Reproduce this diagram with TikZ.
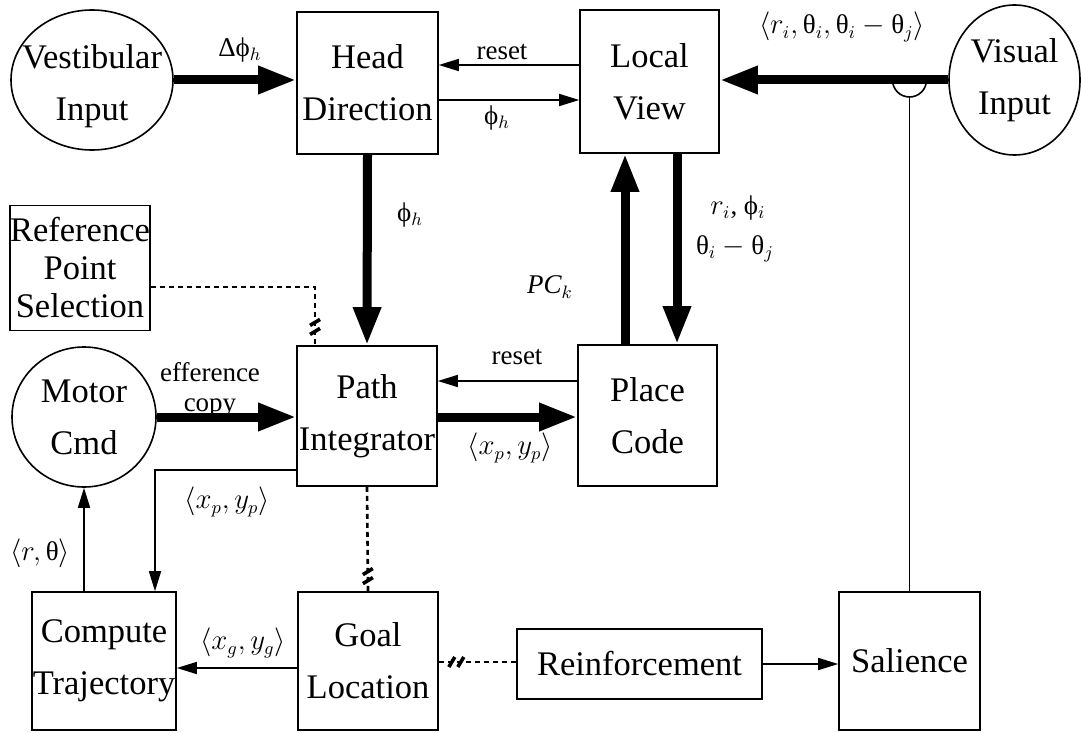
\documentclass[tikz,border=0pt]{standalone}
\usepackage{amsmath}
\usepackage{fontspec}
\setmainfont{Liberation Serif}
\usetikzlibrary{arrows.meta, shapes.geometric, decorations.markings}
\newcommand{\gth}{\text{θ}}
\tikzset{%
	every node/.style = {font=\fontsize{17.25}{26}\selectfont},
	blk/.style = {name = #1, rectangle, draw, line width = 0.8pt, inner sep = 0pt, align = center},
	src/.style = {name = #1, ellipse, draw, line width = 0.8pt, inner sep = 0pt},
	txt/.style = {align = center, inner sep = 0pt},
	lab/.style = {font = \fontsize{13.5}{15}\selectfont, inner sep = 0.5pt, align = center},
	heavy/.style = {line width = 4.5pt, -{Triangle[length = 19pt, width = 13pt]}},
	fine/.style = {line width = 0.8pt, -{Triangle[length = 10pt, width = 6pt]}},
	link/.style = {line width = 1.3pt, dash pattern = on 2.5pt off 2pt},
	cut/.style 2 args = {postaction = {decorate}, decoration = {markings,
		mark = at position #1 with {\draw [solid, line width = 1.8pt, yscale = #2] (-4pt,-2.5pt) -- (-1pt,2.5pt) (0.5pt,-2.5pt) -- (3.5pt,2.5pt);}}}
}
\begin{document}
\begin{tikzpicture}[x = 0.5pt, y = -0.5pt]
	\useasboundingbox (0,0) rectangle (1081,733);
	% inputs
	\node [src = {VES}, minimum width = 81pt, minimum height = 70pt, label = {[txt, yshift = -3pt]center:Vestibular\\Input}] at (92,80) {};
	\node [src = {VIS}, minimum width = 65.5pt, minimum height = 75pt, label = {[txt]center:Visual\\Input}] at (1014.5,80) {};
	\node [src = {MC}, minimum width = 72pt, minimum height = 70pt, label = {[txt]center:Motor\\Cmd}] at (84,417) {};
	% units
	\node [blk = {HD}, minimum width = 70.5pt, minimum height = 71pt] at (367.5,83) {Head\\Direction};
	\node [blk = {LV}, minimum width = 69.5pt, minimum height = 71.5pt] at (649.5,81.5) {Local\\View};
	\node [blk = {RPS}, minimum width = 70pt, minimum height = 62.5pt, font = \fontsize{17.25}{19}\selectfont] at (80,268) {Reference\\Point\\Selection};
	\node [blk = {PI}, minimum width = 70pt, minimum height = 70pt] at (367,416) {Path\\Integrator};
	\node [blk = {PC}, minimum width = 69.5pt, minimum height = 70.5pt] at (647.5,415.5) {Place\\Code};
	\node [blk = {CT}, minimum width = 72pt, minimum height = 69pt] at (104,661) {Compute\\Trajectory};
	\node [blk = {GL}, minimum width = 70pt, minimum height = 69pt] at (368,661) {Goal\\Location};
	\node [blk = {RF}, minimum width = 122.5pt, minimum height = 35pt] at (639.5,664) {Reinforcement};
	\node [blk = {SA}, minimum width = 70.5pt, minimum height = 69pt] at (909.5,661) {Salience};
	% heavy connections
	\path [heavy] (VES.east) edge (VES.east -| HD.west);
	\path [heavy] (VIS.west) edge (LV.east |- VIS.west);
	\path [heavy] (HD.south) edge (PI.north);
	\path [heavy] (PC.north -| 625,0) edge (LV.south -| 625,0);
	\path [heavy] (LV.south -| 677,0) edge (PC.north -| 677,0);
	\path [heavy] (MC.east) edge (MC.east -| PI.west);
	\path [heavy] (PI.east |- 0,417) edge (PC.west |- 0,417);
	% fine connections
	\path [fine] (LV.west |- 0,65) edge (HD.east |- 0,65);
	\path [fine] (HD.east |- 0,100) edge (LV.west |- 0,100);
	\path [fine] (PC.west |- 0,381) edge (PI.east |- 0,381);
	\draw [fine] (PI.west |- 0,470) -| (CT.north -| 155,0);
	\path [fine] (CT.north -| MC.south) edge (MC.south);
	\path [fine] (GL.west |- 0,668) edge (CT.east |- 0,668);
	\path [fine] (RF.east) edge (SA.west |- RF.east);
	% salience tap on the visual line
	\coordinate (jn) at (SA.north |- VIS.west);
	\draw [line width = 0.8pt] ([xshift = -8.5pt]jn) arc [start angle = 180, end angle = 360, radius = 8.5pt];
	\draw [line width = 0.8pt] ([yshift = -8.5pt]jn) -- (SA.north);
	% dashed links
	\draw [link, cut = {0.92}{-1}] (RPS.east |- 0,287) -| (PI.north -| 315,0);
	\draw [link, cut = {0.86}{-1}] (PI.south) -- (GL.north);
	\draw [link, cut = {0.78}{1}] (RF.west |- 0,662) -- (GL.east |- 0,662);
	% labels
	\node [lab] (dphi) at (240,50) {Δϕ$_h$};
	\node [lab] (rst1) at (502,52) {reset};
	\node [lab] (phh1) at (497,118) {ϕ$_h$};
	\node [lab] (vsig) at (842,27) {$\langle r_i, \gth_i, \gth_i - \gth_j\rangle$};
	\node [lab] (phh2) at (410,215) {ϕ$_h$};
	\node [lab] (pck) at (550,287) {$\mathit{PC}_k$};
	\node [lab] (rphi) at (738,208) {$r_i$, ϕ$_i$};
	\node [lab] (thij) at (735,249) {$\gth_i - \gth_j$};
	\node [lab] (eff) at (210,390) {efference\\copy};
	\node [lab] (rst2) at (517,357) {reset};
	\node [lab] (xyp1) at (510,448) {$\langle x_p, y_p\rangle$};
	\node [lab] (xyp2) at (227,502) {$\langle x_p, y_p\rangle$};
	\node [lab] (rth) at (40,553) {$\langle r, \gth\rangle$};
	\node [lab] (xyg) at (243,643) {$\langle x_g, y_g\rangle$};
\end{tikzpicture}
\end{document}
